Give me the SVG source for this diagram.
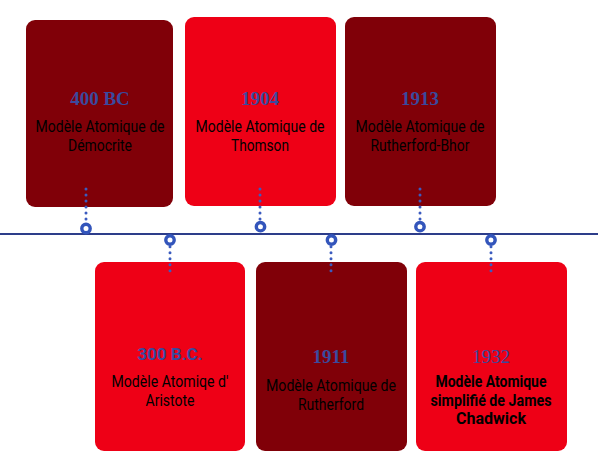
<svg xmlns="http://www.w3.org/2000/svg" width="598" height="467" viewBox="0 0 598 467">
<style>
.dark{fill:#800008}
.red{fill:#ee0016}
.yr{font-family:"Liberation Serif",serif;font-weight:bold;font-size:19px;fill:#3a4a9e;text-anchor:middle}
.yrs{font-family:Roboto,"Liberation Sans",sans-serif;font-weight:bold;font-size:17px;fill:#3a4a9e;text-anchor:middle}
.tx{font-family:Roboto,"Liberation Sans",sans-serif;font-size:16px;fill:#000;text-anchor:middle}
.txb{font-family:Roboto,"Liberation Sans",sans-serif;font-weight:bold;font-size:16px;fill:#000;text-anchor:middle}
.dots{fill:none;stroke:#3b5bbf;stroke-width:3;stroke-linecap:round;stroke-dasharray:0 6}
.pin{fill:#fff;stroke:#3355bb;stroke-width:3.4}
.axis{stroke:#2d3d8a;stroke-width:2}
</style>
<rect width="598" height="467" fill="#fff"/>
<g id="node-400bc">
<rect class="dark" x="26" y="20" width="147" height="187" rx="9"/>
<text class="yr" x="100" y="105">400 BC</text>
<text class="tx" x="100" y="132" textLength="129" lengthAdjust="spacingAndGlyphs">Modèle Atomique de</text>
<text class="tx" x="100" y="150.5" textLength="64" lengthAdjust="spacingAndGlyphs">Démocrite</text>
</g>
<g id="node-1904">
<rect class="red" x="185" y="17" width="151" height="189" rx="9"/>
<text class="yr" x="260" y="105">1904</text>
<text class="tx" x="260" y="132" textLength="129" lengthAdjust="spacingAndGlyphs">Modèle Atomique de</text>
<text class="tx" x="260" y="150.5" textLength="58" lengthAdjust="spacingAndGlyphs">Thomson</text>
</g>
<g id="node-1913">
<rect class="dark" x="345" y="17" width="151" height="189" rx="9"/>
<text class="yr" x="420" y="105">1913</text>
<text class="tx" x="420" y="132" textLength="129" lengthAdjust="spacingAndGlyphs">Modèle Atomique de</text>
<text class="tx" x="420" y="150.5" textLength="99" lengthAdjust="spacingAndGlyphs">Rutherford-Bhor</text>
</g>
<g id="node-300bc">
<rect class="red" x="95" y="262" width="150" height="189" rx="9"/>
<text class="yrs" x="170" y="360">300 B.C.</text>
<text class="tx" x="170" y="387" textLength="117" lengthAdjust="spacingAndGlyphs">Modèle Atomiqe d'</text>
<text class="tx" x="170" y="405.5" textLength="49" lengthAdjust="spacingAndGlyphs">Aristote</text>
</g>
<g id="node-1911">
<rect class="dark" x="256" y="262" width="151" height="189" rx="9"/>
<text class="yr" x="331" y="363">1911</text>
<text class="tx" x="331" y="391" textLength="130" lengthAdjust="spacingAndGlyphs">Modèle Atomique de</text>
<text class="tx" x="331" y="409.5" textLength="66" lengthAdjust="spacingAndGlyphs">Rutherford</text>
</g>
<g id="node-1932">
<rect class="red" x="416" y="262" width="151" height="189" rx="9"/>
<text class="yr" x="491" y="363" style="font-weight:normal">1932</text>
<text class="txb" x="491" y="387" textLength="111" lengthAdjust="spacingAndGlyphs">Modèle Atomique</text>
<text class="txb" x="491" y="405.5" textLength="121" lengthAdjust="spacingAndGlyphs">simplifié de James</text>
<text class="txb" x="491" y="424" textLength="70" lengthAdjust="spacingAndGlyphs">Chadwick</text>
</g>
<g id="connectors">
<line class="axis" x1="0" y1="234" x2="598" y2="234"/>
<path class="dots" d="M86 189V222M260 189V222M420 189V222"/>
<path class="dots" d="M170 246.7V272M331 246.7V272M491 246.7V272"/>
<circle class="pin" cx="86" cy="228.5" r="4.2"/>
<circle class="pin" cx="260.5" cy="226.7" r="4.2"/>
<circle class="pin" cx="420" cy="226.7" r="4.2"/>
<circle class="pin" cx="170" cy="240" r="4.2"/>
<circle class="pin" cx="331.5" cy="240" r="4.2"/>
<circle class="pin" cx="491" cy="240" r="4.2"/>
</g>
</svg>
